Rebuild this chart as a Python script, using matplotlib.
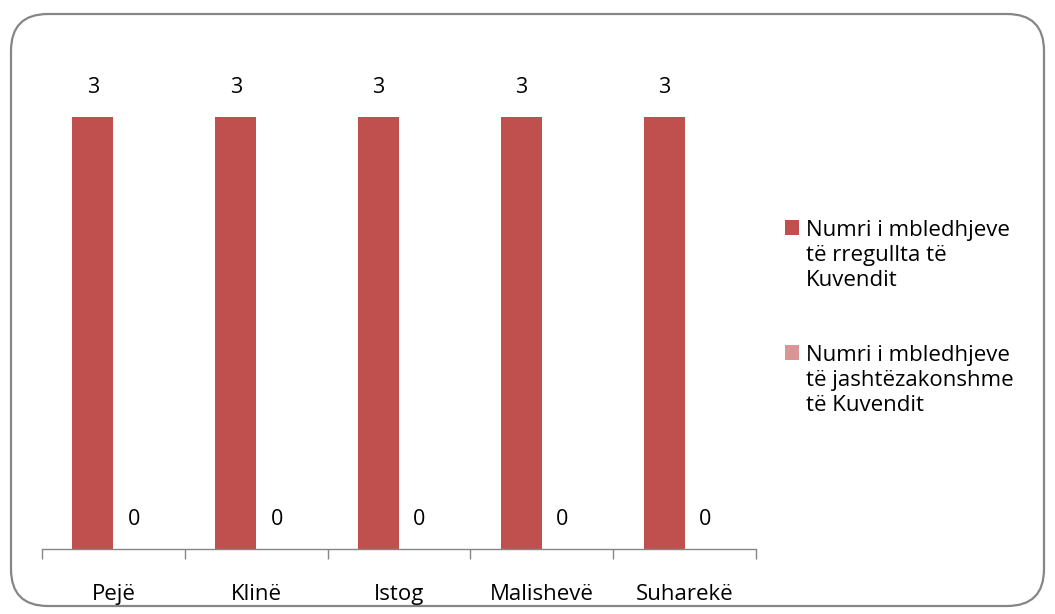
import matplotlib
matplotlib.use("Agg")
import matplotlib.pyplot as plt
from matplotlib.patches import FancyBboxPatch
import numpy as np

categories = ["Pejë", "Klinë", "Istog", "Malishevë", "Suharekë"]
regular = [3, 3, 3, 3, 3]
extraordinary = [0, 0, 0, 0, 0]
series_names = ["Numri i mbledhjeve\ntë rregullta të\nKuvendit",
                "Numri i mbledhjeve\ntë jashtëzakonshme\ntë Kuvendit"]
colors = ["#C0504D", "#D99694"]

plt.rcParams['font.family'] = ['Open Sans', 'DejaVu Sans']
FS = 16

fig = plt.figure(figsize=(10.55, 6.14), dpi=100)
W, H = 1055, 614

# rounded chart border
border = FancyBboxPatch((11 / W, 8 / H), (1044 - 11) / W, (600 - 8) / H,
                        boxstyle="round,pad=0,rounding_size=0.035",
                        transform=fig.transFigure, facecolor="white",
                        edgecolor="#868686", linewidth=1.6, zorder=-5,
                        mutation_aspect=W / H)
fig.patches.append(border)

ax = fig.add_axes([42 / W, (614 - 549) / H, (756 - 42) / W, (549 - 45) / H])
ax.set_facecolor("none")
ax.set_zorder(2)

x = np.arange(len(categories))
w = 0.287
b1 = ax.bar(x - w / 2, regular, w, color=colors[0], label=series_names[0])
b2 = ax.bar(x + w / 2, extraordinary, w, color=colors[1], label=series_names[1])

for bars, vals in ((b1, regular), (b2, extraordinary)):
    for rect, v in zip(bars, vals):
        ax.annotate(str(v), (rect.get_x() + rect.get_width() / 2, rect.get_height()),
                    xytext=(0, 21), textcoords="offset points",
                    ha="center", va="center", fontsize=15.5, color="black")

ax.set_xlim(-0.5, len(categories) - 0.5)
ax.set_ylim(0, 3.5)
ax.set_yticks([])
for s in ["top", "right", "left"]:
    ax.spines[s].set_visible(False)
ax.spines["bottom"].set_color("#868686")
ax.spines["bottom"].set_linewidth(1.0)

ax.set_xticks(np.arange(len(categories) + 1) - 0.5, minor=False)
ax.set_xticklabels([])
ax.tick_params(axis="x", which="major", direction="out", length=7,
               color="#868686", width=1.0)
ax.set_xticks(x, minor=True)
ax.set_xticklabels(categories, minor=True, fontsize=FS)
ax.tick_params(axis="x", which="minor", length=0, pad=25)

leg = fig.legend(handles=[b1, b2], labels=series_names,
                 loc="upper left", bbox_to_anchor=(765 / W, 1 - 200 / H),
                 frameon=False, fontsize=FS, handlelength=0.63, handleheight=0.63,
                 handletextpad=0.3, labelspacing=2.45)
for t in leg.get_texts():
    t.set_linespacing(1.25)
for col in leg._legend_handle_box.get_children():
    for hp in col.get_children():
        hp.align = "top"

fig.savefig("out.png", dpi=100)
